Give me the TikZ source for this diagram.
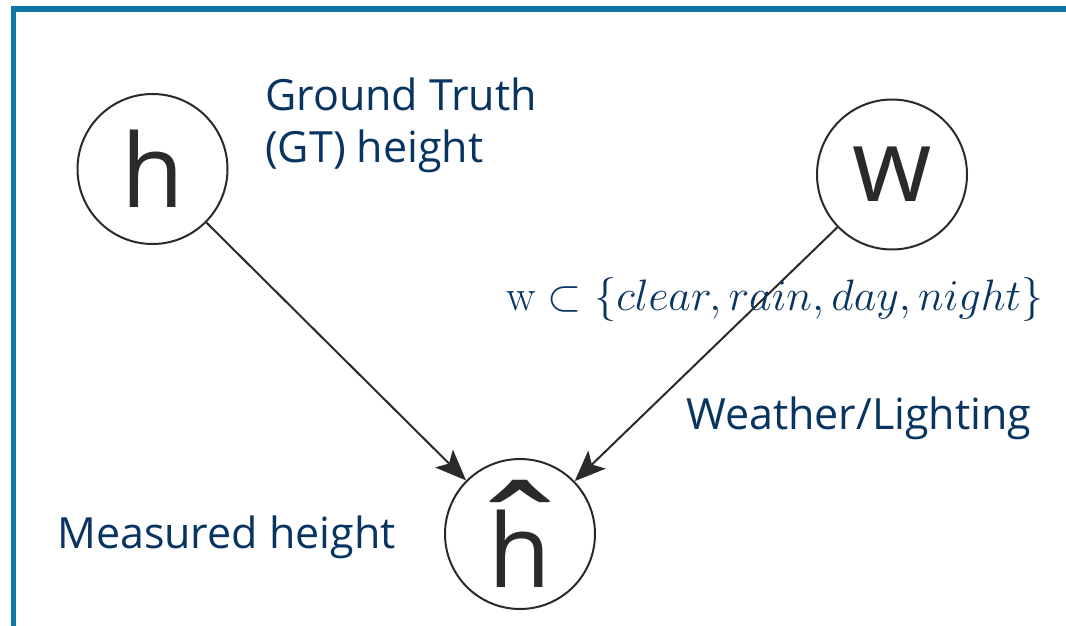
\documentclass[tikz,border=0pt]{standalone}
\usepackage{fix-cm}
\usepackage{fontspec}
\newfontfamily\labelfont{Open Sans}
\usetikzlibrary{arrows.meta}
\definecolor{navy}{RGB}{8,52,98}
\definecolor{ink}{RGB}{43,42,41}
\definecolor{frameblue}{RGB}{16,118,164}
% h with a wide circumflex centred over it
\newcommand\hathsym{\setbox0\hbox{h}\rlap{\hbox to\wd0{\hss\scalebox{1.3}[1]{\fontsize{140}{140}\selectfont ˆ}\hss}}\box0}
\begin{document}
\begin{tikzpicture}[x=1pt,y=-1pt,
  var/.style={circle,draw=ink,line width=2pt,minimum size=150pt,inner sep=0pt,
    text=ink,font=\labelfont\fontsize{102}{102}\selectfont},
  lbl/.style={text=navy,font=\labelfont\fontsize{43}{52}\selectfont,
    inner sep=0pt,anchor=base west,align=left},
  link/.style={draw=ink,line width=2pt,
    -{Stealth[length=31pt,width=25pt,inset=7pt]}}]
\clip (0,0) rectangle (1066,626);
\useasboundingbox (0,0) rectangle (1066,626);
% frame
\draw[frameblue,line width=5.5pt] (13.5,9) rectangle (1080,628.5);
% variables
\node[var] (h)  at (152.5,169) {h};
\node[var] (w)  at (892,174.5) {w};
\node[var] (hh) at (520,534) {\hathsym};
% dependencies
\draw[link] (h) -- (hh);
\draw[link] (w) -- (hh);
% labels
\node[lbl] (gt) at (265,162) {Ground Truth\\(GT) height};
\node[lbl] (wl) at (686,429) {Weather/Lighting};
\node[lbl] (mh) at (57,548) {Measured height};
\node[text=navy,inner sep=0pt,anchor=base west,font=\fontsize{44}{44}\selectfont]
  (ws) at (506,310) {$\mathrm{w}\subset\{clear, rain, day, night\}$};
\end{tikzpicture}
\end{document}
